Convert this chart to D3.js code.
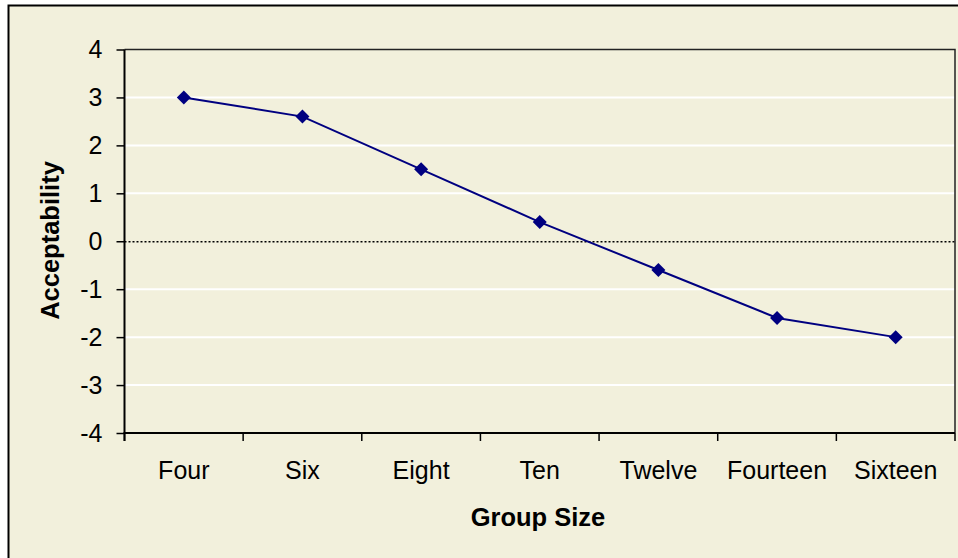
<!DOCTYPE html>
<html><head><meta charset="utf-8">
<script src="https://cdn.jsdelivr.net/npm/d3@7"></script>
<style>
html,body{margin:0;padding:0;background:#fff;}
svg{display:block;font-family:Arial,"Liberation Sans",sans-serif;}
</style></head>
<body>
<svg id="chart" width="958" height="558"></svg>
<script>
const categories = ["Four","Six","Eight","Ten","Twelve","Fourteen","Sixteen"];
const values = [3, 2.6, 1.5, 0.4, -0.6, -1.6, -2];
const yTicks = [-4,-3,-2,-1,0,1,2,3,4];
const xTitle = "Group Size";
const yTitle = "Acceptability";

const svg = d3.select("#chart");
const bg = "#F2F0DC";
// outer chart area
svg.append("rect").attr("x",8.5).attr("y",5.5).attr("width",960).attr("height",560)
  .attr("fill",bg).attr("stroke","#000").attr("stroke-width",2);

const L=124.5, R=955, T=49.5, B=433;
const x = d3.scaleBand().domain(categories).range([L,R]);
const y = d3.scaleLinear().domain([-4,4]).range([B,T]);

// plot background
svg.append("rect").attr("x",L).attr("y",T).attr("width",R-L).attr("height",B-T).attr("fill",bg);

// gridlines
svg.append("g").selectAll("line").data(yTicks.filter(d=>d!==0 && d!==4 && d!==-4)).join("line")
  .attr("x1",L).attr("x2",R).attr("y1",d=>y(d)).attr("y2",d=>y(d))
  .attr("stroke","#fff").attr("stroke-width",2);
// zero line dotted
svg.append("line").attr("x1",L).attr("x2",R).attr("y1",y(0)+0.5).attr("y2",y(0)+0.5)
  .attr("stroke","#000").attr("stroke-width",1.3).attr("stroke-dasharray","2,2");

// plot border top/right
svg.append("path").attr("d",`M${L},${T}H${R}V${B}`).attr("fill","none")
  .attr("stroke","#222").attr("stroke-width",1.5);

// Y axis
const yAxis = svg.append("g").attr("transform",`translate(${L},0)`)
  .call(d3.axisLeft(y).tickValues(yTicks).tickSize(8).tickPadding(14).tickFormat(d3.format("d")));
yAxis.select(".domain").attr("stroke","#000").attr("stroke-width",2).attr("d",`M0,${T}V${B+8}`);
yAxis.selectAll(".tick line").attr("stroke","#000").attr("stroke-width",1.5);
yAxis.selectAll("text").attr("font-size",25).attr("fill","#000")
  .text(d=>d<0?"-"+Math.abs(d):d);

// X axis with tick marks between categories
const xg = svg.append("g").attr("transform",`translate(0,${B})`);
xg.append("line").attr("x1",L-1).attr("x2",R).attr("y1",0).attr("y2",0).attr("stroke","#000").attr("stroke-width",2);
const bounds = categories.map(c=>x(c)).concat([R]);
xg.selectAll("line.t").data(bounds).join("line").attr("class","t")
  .attr("x1",d=>d).attr("x2",d=>d).attr("y1",0).attr("y2",8).attr("stroke","#000").attr("stroke-width",1.5);
xg.selectAll("text").data(categories).join("text")
  .attr("x",d=>x(d)+x.bandwidth()/2).attr("y",46).attr("text-anchor","middle")
  .attr("font-size",25).attr("fill","#000").text(d=>d);

// line + markers
const line = d3.line().x((d,i)=>x(categories[i])+x.bandwidth()/2).y(d=>y(d));
svg.append("path").datum(values).attr("d",line).attr("fill","none")
  .attr("stroke","#000080").attr("stroke-width",2);
svg.append("g").selectAll("path").data(values).join("path")
  .attr("transform",(d,i)=>`translate(${x(categories[i])+x.bandwidth()/2},${y(d)})`)
  .attr("d","M0,-7L7,0L0,7L-7,0Z").attr("fill","#000080");

// titles
svg.append("text").attr("x",538).attr("y",526).attr("text-anchor","middle")
  .attr("font-size",25.5).attr("font-weight","bold").text(xTitle);
svg.append("text").attr("transform",`translate(58.5,240.5) rotate(-90)`)
  .attr("text-anchor","middle").attr("font-size",25.5).attr("font-weight","bold").text(yTitle);
</script>
</body></html>
